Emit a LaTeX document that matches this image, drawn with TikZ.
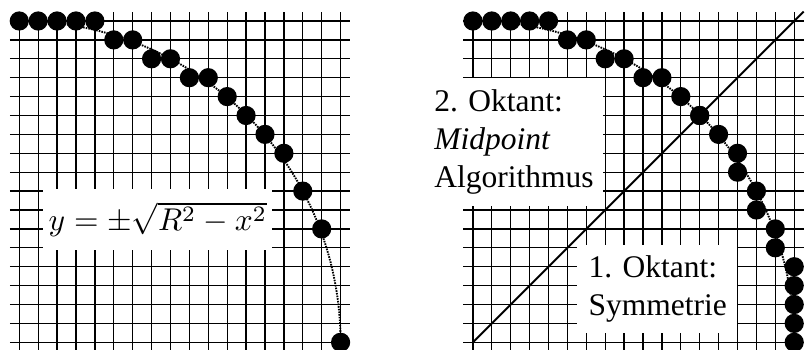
\documentclass[tikz,border=0pt]{standalone}
\usepackage[no-math]{fontspec}
\setmainfont{Liberation Serif}
\frenchspacing

\begin{document}
\begin{tikzpicture}[x=6pt,y=6pt,font=\normalsize,
 gl/.style={line width=0.4pt},
 pix/.style={circle,fill,inner sep=0pt,minimum size=6.1pt},
 arcl/.style={line width=0.6pt,dash pattern=on 0.5pt off 0.35pt},
 lbl/.style={fill=white,inner sep=0pt}]
\useasboundingbox (-1.02,-0.355) rectangle (41.57,18.11);
% raster, left and right
\foreach \ox in {0,24}{
 \foreach \i in {0,...,17}{
  \draw[gl] (\ox+\i,-0.5) -- (\ox+\i,17.5);
  \draw[gl] (\ox-0.5,\i) -- (\ox+17.5,\i);
 }}
% explicit formula
\node[lbl,minimum width=72.7pt,minimum height=19.4pt] (form) at (7.33,6.5) {$y=\pm\sqrt{R^2-x^2}$};
\draw[arcl] (0,17) arc[start angle=90,end angle=0,radius=17];
\foreach \x/\y in {0/17,1/17,2/17,3/17,4/17,5/16,6/16,7/15,8/15,9/14,10/14,11/13,12/12,13/11,14/10,15/8,16/6,17/0}
 \node[pix] (e\x) at (\x,\y) {};
% midpoint + symmetry
\node[lbl,align=left,text width=50.5pt,inner xsep=3.06pt,minimum height=40.8pt] (oct2) at (26.165,10.6)
 {2. Oktant:\\ \textit{Midpoint}\\ Algorithmus};
\node[lbl,align=left,text width=43.4pt,inner xsep=3.7pt,minimum height=28.2pt] (oct1) at (33.735,2.82)
 {1. Oktant:\\ Symmetrie};
\coordinate (o2) at (24,0);
\coordinate (c2) at (41.5,17.5);
\draw[line width=0.6pt] (o2) -- (c2);
\draw[arcl] (24,17) arc[start angle=90,end angle=0,radius=17];
\foreach \x/\y in {0/17,1/17,2/17,3/17,4/17,5/16,6/16,7/15,8/15,9/14,10/14,11/13,12/12}{
 \node[pix] (m\x) at (24+\x,\y) {};
 \node[pix] (s\x) at (24+\y,\x) {};
}
\end{tikzpicture}
\end{document}
